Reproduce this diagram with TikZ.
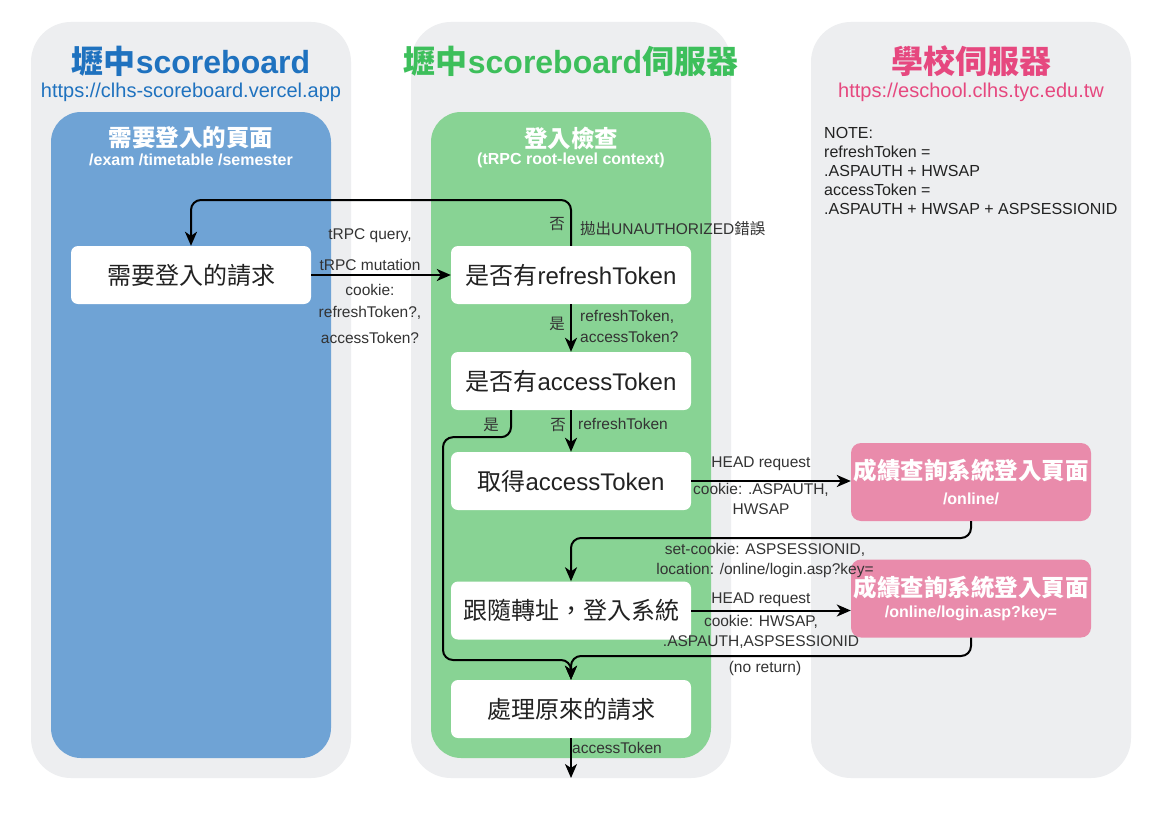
\documentclass[tikz,border=0pt]{standalone}
\usepackage{fontspec}
\setmainfont{Liberation Sans}
\newfontfamily\cjk{Noto Sans CJK TC}
\usetikzlibrary{arrows.meta}
\definecolor{lanebg}{HTML}{EDEEF0}
\definecolor{bluebox}{HTML}{6FA3D5}
\definecolor{greenbox}{HTML}{88D394}
\definecolor{pinkbox}{HTML}{E98BAB}
\definecolor{bluetitle}{HTML}{1F72BF}
\definecolor{greentitle}{HTML}{3DBF5B}
\definecolor{pinktitle}{HTML}{E6487F}
\definecolor{txt}{HTML}{222222}
\definecolor{lbltxt}{HTML}{333333}
\newcommand\zh[1]{{\cjk #1}}
\begin{document}
\begin{tikzpicture}[x=1pt,y=-1pt,
 lane/.style={fill=lanebg, rounded corners=40pt},
 innerbox/.style={rounded corners=30pt},
 wbox/.style={fill=white, rounded corners=7pt, minimum width=240pt, minimum height=58pt, inner sep=0pt, text=txt, font=\fontsize{24}{28}\selectfont},
 pbox/.style={fill=pinkbox, rounded corners=10pt, minimum width=240pt, minimum height=78pt, inner sep=0pt, text=white, align=center},
 conn/.style={line width=2pt, draw=black, rounded corners=10pt},
 arr/.style={conn, -{Stealth[length=14pt,width=12pt,inset=4pt]}},
 lbl/.style={text=lbltxt, font=\fontsize{15.5}{19}\selectfont, inner sep=0pt},
 bigtitle/.style={font=\bfseries\fontsize{32}{36}\selectfont},
 urltext/.style={font=\fontsize{20}{24}\selectfont},
 subtitle/.style={text=white, font=\bfseries\fontsize{23.5}{26}\selectfont},
 subsub/.style={text=white, font=\bfseries\fontsize{16}{19}\selectfont}
]
\useasboundingbox (0,0) rectangle (1164,816);
\fill[white] (0,0) rectangle (1164,816);
% lanes
\fill[lane] (31,22) rectangle (351,778);
\fill[lane] (411,22) rectangle (731,778);
\fill[lane] (811,22) rectangle (1131,778);
\fill[innerbox, bluebox] (51,112) rectangle (331,758);
\fill[innerbox, greenbox] (431,112) rectangle (711,758);
% titles
\node[bigtitle, text=bluetitle] (t1) at (191,61) {\zh{壢中}scoreboard};
\node[urltext, text=bluetitle] (u1) at (191,92) {https://clhs-scoreboard.vercel.app};
\node[bigtitle, text=greentitle] (t2) at (571,61) {\zh{壢中}scoreboard\zh{伺服器}};
\node[bigtitle, text=pinktitle] (t3) at (971,61) {\zh{學校伺服器}};
\node[urltext, text=pinktitle] (u3) at (971,92) {https://eschool.clhs.tyc.edu.tw};
\node[subtitle] (s1) at (191,138) {\zh{需要登入的頁面}};
\node[subsub] (ss1) at (191,160) {/exam /timetable /semester};
\node[subtitle] (s2) at (571,138) {\zh{登入檢查}};
\node[subsub] (ss2) at (571,160) {(tRPC root-level context)};
\node[anchor=north west, align=left, text=txt, font=\fontsize{16}{19}\selectfont, inner sep=0pt] (note) at (824,127)
 {NOTE:\\refreshToken =\\.ASPAUTH + HWSAP\\accessToken =\\.ASPAUTH + HWSAP + ASPSESSIONID};
% nodes
\node[wbox] (req) at (191,275) {\zh{需要登入的請求}};
\node[wbox] (refresh) at (571,275) {\zh{是否有}refreshToken};
\node[wbox] (access) at (571,381) {\zh{是否有}accessToken};
\node[wbox] (get) at (571,481) {\zh{取得}accessToken};
\node[wbox] (follow) at (571,610.5) {\zh{跟隨轉址，登入系統}};
\node[wbox] (handle) at (571,709) {\zh{處理原來的請求}};
\node[pbox] (online) at (971,482) {{\bfseries\fontsize{23.5}{27}\selectfont\zh{成績查詢系統登入頁面}}\\[10pt]{\bfseries\fontsize{16}{19}\selectfont /online/}};
\node[pbox] (login) at (971,598.5) {{\bfseries\fontsize{23.5}{27}\selectfont\zh{成績查詢系統登入頁面}}\\[6pt]{\bfseries\fontsize{16}{19}\selectfont /online/login.asp?key=}};
% coordinates
\coordinate (c1) at (191,200);
\coordinate (yb) at (443,660);
\coordinate (c2) at (571,538);
\coordinate (c3) at (571,656);
\coordinate (out) at (571,778);
% connectors
\draw[arr] (req.east) -- (refresh.west);
\draw[arr] (refresh.north) |- (c1) -- (req.north);
\draw[arr] (refresh.south) -- (access.north);
\draw[arr] (access.south) -- (get.north);
\draw[arr] ([xshift=-60pt]access.south) -- ++(0,27) -| (yb) -| (handle.north);
\draw[arr] (get.east) -- (get.east -| online.west);
\draw[arr] (online.south) |- (c2) -- (follow.north);
\draw[arr] (follow.east) -- (follow.east -| login.west);
\draw[arr] (login.south) |- (c3) -- (handle.north);
\draw[arr] (handle.south) -- (out);
% labels
\node[lbl] (l1) at (370,236) {tRPC query,};
\node[lbl] (l2) at (370,265) {tRPC mutation};
\node[lbl] (l3) at (370,290) {cookie:};
\node[lbl] (l4) at (370,313) {refreshToken?,};
\node[lbl] (l5) at (370,338) {accessToken?};
\node[lbl] (l6) at (557,224) {\zh{否}};
\node[lbl, anchor=west] (l7) at (580,229) {\zh{拋出}UNAUTHORIZED\zh{錯誤}};
\node[lbl] (l8) at (557,324) {\zh{是}};
\node[lbl, anchor=west] (l9) at (580,317) {refreshToken,};
\node[lbl, anchor=west] (l10) at (580,337) {accessToken?};
\node[lbl] (l11) at (558,425) {\zh{否}};
\node[lbl, anchor=west] (l12) at (578,424) {refreshToken};
\node[lbl] (l13) at (491,425) {\zh{是}};
\node[lbl] (l14) at (761,464) {HEAD request};
\node[lbl] (l15) at (761,490) {cookie: .ASPAUTH,};
\node[lbl] (l16) at (761,509) {HWSAP};
\node[lbl] (l17) at (765,550) {set-cookie: ASPSESSIONID,};
\node[lbl] (l18) at (765,570) {location: /online/login.asp?key=};
\node[lbl] (l19) at (761,600) {HEAD request};
\node[lbl] (l20) at (761,622) {cookie: HWSAP,};
\node[lbl] (l21) at (761,642) {.ASPAUTH,ASPSESSIONID};
\node[lbl] (l22) at (765,668) {(no return)};
\node[lbl, anchor=west] (l23) at (572,748) {accessToken};
\end{tikzpicture}
\end{document}
